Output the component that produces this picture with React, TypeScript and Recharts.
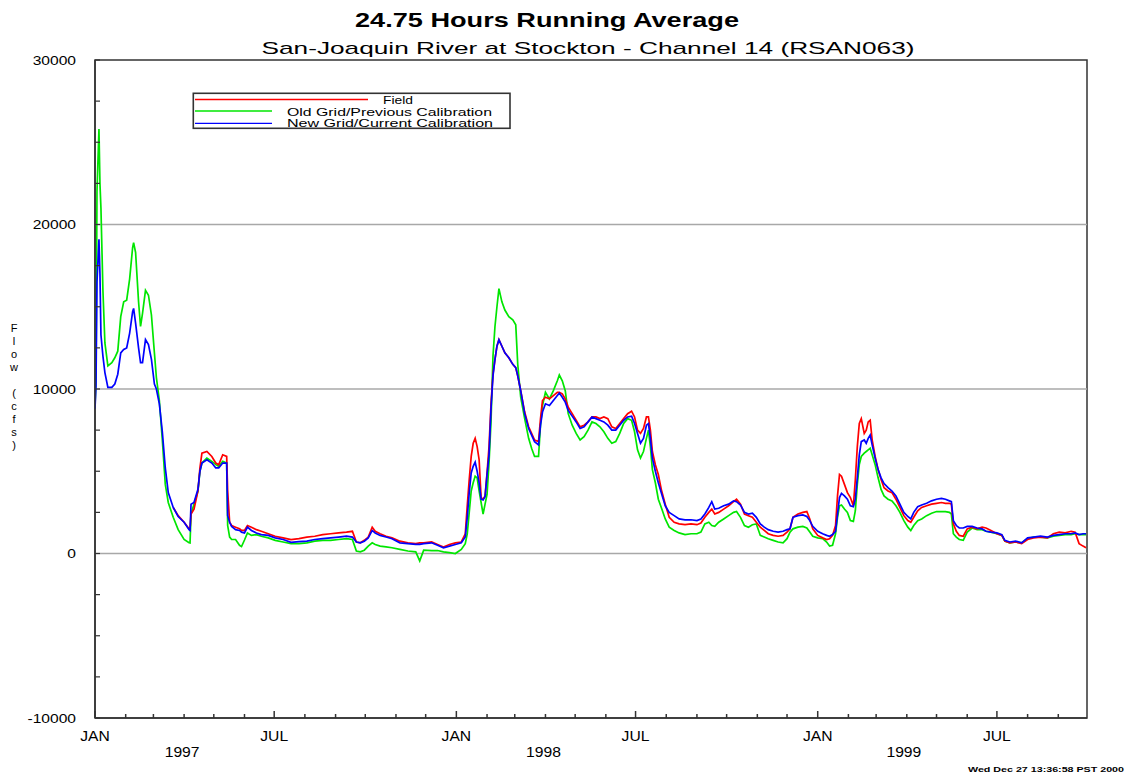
import React from "react";
import {
  LineChart,
  Line,
  XAxis,
  YAxis,
  ReferenceLine,
  ReferenceArea,
  Legend,
} from "recharts";

// days since 1997-01-01
const days = [
  0, 1, 2, 4, 5, 6, 8, 10, 13, 17,
  20, 23, 26, 29, 32, 35, 38, 39, 41, 44,
  46, 48, 51, 54, 57, 60, 62, 65, 68, 71,
  74, 79, 84, 90, 95, 96, 97, 100, 104, 106,
  108, 113, 118, 122, 125, 129, 133, 134, 136, 138,
  142, 146, 148, 151, 154, 158, 163, 168, 175, 182,
  190, 198, 206, 214, 222, 230, 238, 246, 254, 260,
  264, 268, 272, 276, 280, 283, 288, 294, 300, 308,
  316, 324, 328, 332, 340, 346, 352, 358, 364, 370,
  374, 376, 378, 380, 382, 384, 386, 388, 390, 392,
  394, 396, 398, 400, 402, 404, 406, 408, 411, 414,
  418, 422, 425, 427, 430, 434, 438, 441, 444, 448,
  450, 452, 455, 459, 463, 467, 469, 472, 475, 478,
  482, 486, 490, 494, 498, 502, 506, 510, 514, 518,
  522, 526, 530, 534, 538, 542, 545, 548, 551, 554,
  557, 559, 561, 563, 566, 569, 572, 576, 580, 585,
  590, 596, 602, 608, 612, 616, 620, 623, 626, 630,
  635, 640, 645, 648, 652, 656, 660, 664, 668, 672,
  676, 680, 685, 690, 695, 699, 702, 705, 710, 715,
  719, 722, 725, 730, 735, 739, 742, 745, 748, 750,
  752, 754, 757, 760, 763, 766, 768, 770, 772, 774,
  777, 779, 781, 783, 785, 788, 791, 794, 797, 801,
  805, 809, 813, 817, 821, 824, 827, 831, 835, 840,
  845, 850, 855, 859, 863, 865, 867, 870, 873, 877,
  881, 886, 891, 896, 900, 905, 911, 916, 919, 924,
  930, 936, 942, 948, 955, 962, 968, 974, 980, 986,
  990, 994, 998, 1001,
];

// Field (red)
const field = [
  null, null, null, null, null, null, null, null, null, null,
  null, null, null, null, null, null, null, null, null, null,
  null, null, null, null, null, null, null, null, null, null,
  null, 2800, 2300, 1900, 1500, 1450, 2400, 2700, 3800, 5200,
  6100, 6200, 5900, 5500, 5400, 6000, 5900, 3800, 1900, 1700,
  1600, 1500, 1400, 1400, 1700, 1600, 1450, 1350, 1200, 1050,
  950, 850, 900, 1000, 1050, 1150, 1200, 1250, 1300, 1350,
  700, 650, 800, 1000, 1600, 1350, 1200, 1050, 950, 750,
  650, 600, 650, 650, 700, 550, 400, 550, 650, 700,
  1200, 2900, 4500, 5900, 6700, 7000, 6500, 5700, 3400, 3300,
  3500, 4900, 6500, 9100, 10900, 11800, 12600, 13000, 12600, 12200,
  11900, 11500, 11300, 10800, 9900, 8600, 7700, 7300, 6900, 6800,
  8200, 9300, 9500, 9400, 9600, 9800, 9800, 9700, 9400, 8900,
  8500, 8100, 7700, 7800, 8000, 8300, 8300, 8200, 8300, 8200,
  7700, 7600, 7900, 8200, 8500, 8650, 8300, 7500, 7300, 7600,
  8300, 8300, 7500, 6200, 5400, 4800, 3900, 3000, 2200, 1900,
  1800, 1750, 1800, 1750, 1850, 2200, 2500, 2700, 2400, 2500,
  2700, 2900, 3150, 3300, 3000, 2400, 2300, 2200, 1900, 1600,
  1400, 1200, 1100, 1050, 1100, 1300, 1500, 2200, 2400, 2500,
  2550, 2100, 1500, 1100, 950, 850, 900, 1100, 1700, 3500,
  4800, 4700, 4200, 3700, 3400, 2900, 4500, 6500, 7900, 8200,
  7300, 7500, 8000, 8100, 6900, 5900, 5100, 4500, 4000, 3800,
  3700, 3300, 2800, 2300, 2000, 1900, 2200, 2600, 2800, 2900,
  3000, 3050, 3100, 3050, 3050, 3000, 1800, 1350, 1100, 1050,
  1500, 1600, 1500, 1600, 1550, 1400, 1200, 1100, 750, 650,
  700, 600, 850, 950, 1000, 950, 1200, 1300, 1250, 1350,
  1300, 600, 450, 350,
];

// Old Grid/Previous Calibration (green)
const oldGrid = [
  9000, 10500, 22000, 25800, 22500, 21000, 16000, 12800, 11400, 11600,
  11900, 12300, 14400, 15300, 15400, 16700, 18600, 18900, 18300, 15300,
  13800, 14600, 16000, 15700, 14500, 12200, 10700, 9300, 6900, 4200,
  3100, 2200, 1450, 850, 650, 640, 2400, 3000, 3800, 5000,
  5500, 5800, 5600, 5400, 5300, 5600, 5500, 1700, 1000, 850,
  850, 500, 420, 820, 1250, 1100, 1150, 1050, 950, 800,
  700, 600, 600, 650, 750, 800, 800, 850, 900, 850,
  150, 100, 200, 450, 650, 550, 450, 400, 350, 250,
  150, 100, -450, 200, 180, 180, 100, 50, 0, 250,
  600, 1200, 2500, 3800, 4300, 4700, 4600, 3800, 3100, 2400,
  3000, 3600, 5500, 8000, 12000, 13800, 15000, 16100, 15300, 14800,
  14400, 14200, 13900, 11500, 9500, 8200, 7000, 6400, 5900, 5900,
  7800, 9000, 9800, 9400, 9900, 10500, 10850, 10500, 9900, 8500,
  7800, 7300, 6900, 7100, 7500, 8000, 7900, 7700, 7400, 7000,
  6700, 6800, 7300, 7900, 8200, 8100, 7400, 6300, 5800, 6200,
  7000, 7500, 6500, 5100, 4300, 3300, 2800, 2100, 1600, 1400,
  1250, 1150, 1200, 1200, 1300, 1800, 1900, 1700, 1650, 1900,
  2100, 2300, 2500, 2550, 2200, 1700, 1600, 1750, 1800, 1100,
  1000, 900, 800, 700, 650, 900, 1300, 1500, 1600, 1650,
  1550, 1300, 1050, 950, 900, 700, 450, 500, 1200, 2200,
  2900, 2950, 2700, 2500, 2000, 1950, 2600, 4200, 5400, 5900,
  6100, 6200, 6300, 6400, 6000, 5400, 4600, 3900, 3500, 3300,
  3200, 2900, 2500, 2000, 1600, 1400, 1700, 2000, 2100, 2300,
  2450, 2550, 2550, 2550, 2500, 2400, 1200, 1000, 850, 800,
  1300, 1550, 1450, 1450, 1350, 1300, 1200, 1100, 750, 650,
  700, 650, 900, 1000, 1000, 950, 1050, 1100, 1150, 1150,
  1200, 1150, 1150, 1150,
];

// New Grid/Current Calibration (blue)
const newGrid = [
  8800, 10200, 16500, 19100, 17000, 13300, 12000, 11000, 10100, 10100,
  10300, 10900, 12200, 12400, 12500, 13400, 14700, 14900, 14000, 12500,
  11600, 11600, 13000, 12700, 11800, 10300, 10000, 9100, 7400, 5200,
  3700, 2800, 2250, 1900, 1450, 1400, 3000, 3100, 3900, 5000,
  5500, 5700, 5500, 5200, 5200, 5500, 5500, 2300, 1900, 1650,
  1450, 1400, 1300, 1250, 1600, 1400, 1250, 1150, 1100, 950,
  850, 680, 720, 750, 850, 900, 950, 1000, 1050, 1000,
  700, 650, 750, 950, 1400, 1250, 1100, 1000, 900, 650,
  600, 550, 550, 600, 650, 500, 350, 450, 550, 650,
  1000, 2200, 3700, 4900, 5300, 5550, 5000, 4300, 3300, 3250,
  3450, 4800, 6000, 8800, 10800, 11800, 12600, 13000, 12600, 12200,
  11900, 11500, 11300, 10800, 9900, 8500, 7600, 7200, 6800, 6600,
  7800, 8600, 9100, 9000, 9300, 9600, 9750, 9500, 9200, 8700,
  8350, 8000, 7600, 7700, 8000, 8300, 8200, 8100, 8000, 7800,
  7500, 7500, 7800, 8100, 8300, 8350, 7900, 7300, 6700, 7000,
  7800, 7900, 7000, 5800, 5000, 4300, 3700, 2900, 2500, 2300,
  2100, 2050, 2050, 2000, 2100, 2400, 2800, 3150, 2700, 2750,
  2900, 3000, 3200, 3150, 2950, 2500, 2400, 2450, 2200, 1800,
  1600, 1450, 1350, 1300, 1350, 1450, 1500, 2200, 2300, 2350,
  2250, 2000, 1650, 1350, 1200, 1100, 1050, 1150, 1350, 2400,
  3400, 3650, 3500, 3300, 2900, 2850, 3300, 4600, 6000, 6800,
  6900, 6700, 7000, 7200, 6600, 5800, 5100, 4600, 4250, 4000,
  3800, 3500, 3000, 2500, 2250, 2100, 2500, 2850, 2950, 3050,
  3200, 3300, 3350, 3300, 3200, 3150, 2000, 1700, 1550, 1550,
  1650, 1650, 1550, 1500, 1350, 1300, 1250, 1150, 800, 700,
  750, 650, 950, 1000, 1050, 1000, 1100, 1150, 1200, 1200,
  1250, 1150, 1200, 1200,
];

const monthTicks = [
  0, 31, 59, 90, 120, 151, 181, 212, 243, 273, 304, 334,
  365, 396, 424, 455, 485, 516, 546, 577, 608, 638, 669, 699,
  730, 761, 789, 820, 850, 881, 911, 942, 973,
];
const monthLabels: Record<number, string> = {
  0: "JAN", 181: "JUL", 365: "JAN", 546: "JUL", 730: "JAN", 911: "JUL",
};
const yearTicks = [88, 453, 817];
const yearLabels: Record<number, string> = { 88: "1997", 453: "1998", 817: "1999" };
const flowTicks = [
  -10000, -7500, -5000, -2500, 0, 2500, 5000, 7500, 10000,
  12500, 15000, 17500, 20000, 22500, 25000, 27500, 30000,
];
const gridValues = [0, 10000, 20000];
const dayMax = 1002;

const data = days.map((d, i) => ({
  day: d,
  field: field[i],
  oldGrid: oldGrid[i],
  newGrid: newGrid[i],
}));

const FONT = "'Liberation Sans', Arial, Helvetica, sans-serif";

function WideText({ x, y, size, sx, anchor, children }: any) {
  return (
    <text
      transform={`translate(${x},${y}) scale(${sx},1)`}
      fontSize={size}
      textAnchor={anchor}
      fontFamily={FONT}
      fill="#000"
    >
      {children}
    </text>
  );
}

function FlowTick(props: any) {
  const { x, y, payload } = props;
  if (payload.value % 10000 !== 0) return <g />;
  return (
    <WideText x={x} y={y + 4.5} size={12} sx={1.3} anchor="end">
      {String(payload.value)}
    </WideText>
  );
}

function MonthTick(props: any) {
  const { x, y, payload } = props;
  const label = monthLabels[payload.value];
  return (
    <g>
      <line x1={x} x2={x} y1={y} y2={y - (label ? 7 : 4)} stroke="#333" strokeWidth={1.5} />
      {label && (
        <WideText x={x} y={y + 23} size={14} sx={1.12} anchor="middle">
          {label}
        </WideText>
      )}
    </g>
  );
}

function YearTick(props: any) {
  const { x, y, payload } = props;
  return (
    <WideText x={x} y={y + 16.5} size={14} sx={1.12} anchor="middle">
      {yearLabels[payload.value]}
    </WideText>
  );
}

function LegendBox(props: any) {
  const items = props.payload || [];
  const rows = [
    { key: "field", x2: 178, tx: 193, ly: 9.5, ty: 14, tl: 30 },
    { key: "oldGrid", x2: 82, tx: 97, ly: 21, ty: 25.5, tl: 205 },
    { key: "newGrid", x2: 82, tx: 97, ly: 33.3, ty: 37, tl: 206 },
  ];
  return (
    <svg width={325} height={42} style={{ display: "block" }}>
      <rect x={3.3} y={3.3} width={316.7} height={35} fill="#fff" stroke="#333" strokeWidth={1.6} />
      {rows.map((r) => {
        const p = items.find((it: any) => it.dataKey === r.key);
        if (!p) return null;
        return (
          <g key={r.key}>
            <line x1={5} x2={r.x2} y1={r.ly} y2={r.ly} stroke={p.color} strokeWidth={1.3} />
            <text
              x={r.tx}
              y={r.ty}
              fontSize={10.5}
              fontFamily={FONT}
              textLength={r.tl}
              lengthAdjust="spacingAndGlyphs"
              fill="#000"
            >
              {p.value}
            </text>
          </g>
        );
      })}
    </svg>
  );
}

const yLabel = "Flow (cfs)";

export default function App() {
  return (
    <div style={{ position: "absolute", left: 0, top: 0, width: 1126, height: 775, background: "#fff" }}>
      <LineChart
        width={1126}
        height={775}
        data={data}
        margin={{ top: 60, right: 39, bottom: 0, left: 0 }}
      >
        <XAxis
          dataKey="day"
          type="number"
          domain={[0, dayMax]}
          ticks={monthTicks}
          interval={0}
          height={22}
          tickLine={false}
          tickSize={0}
          tickMargin={0}
          tick={MonthTick}
          axisLine={{ stroke: "#333", strokeWidth: 1.5 }}
          allowDataOverflow
        />
        <XAxis
          xAxisId="yr"
          dataKey="day"
          type="number"
          domain={[0, dayMax]}
          ticks={yearTicks}
          interval={0}
          height={35}
          axisLine={false}
          tickLine={false}
          tickSize={0}
          tickMargin={0}
          tick={YearTick}
          allowDataOverflow
        />
        <YAxis
          type="number"
          domain={[-10000, 30000]}
          ticks={flowTicks}
          interval={0}
          width={95}
          tickSize={-5}
          tickMargin={24}
          tick={FlowTick}
          tickLine={{ stroke: "#333", strokeWidth: 1.2 }}
          axisLine={{ stroke: "#333", strokeWidth: 1.5 }}
          allowDataOverflow
        />
        {gridValues.map((v) => (
          <ReferenceLine key={v} y={v} stroke="#a8a8a8" strokeWidth={1.5} />
        ))}
        <ReferenceArea
          x1={0}
          x2={dayMax}
          y1={-10000}
          y2={30000}
          fill="none"
          fillOpacity={0}
          stroke="#333"
          strokeWidth={1.5}
          strokeOpacity={1}
        />
        <Legend
          content={<LegendBox />}
          layout="vertical"
          align="center"
          verticalAlign="middle"
          wrapperStyle={{ left: 190, top: 90, width: 325, height: 42 }}
        />
        <Line
          dataKey="oldGrid"
          name="Old Grid/Previous Calibration"
          type="linear"
          stroke="#00e600"
          strokeWidth={1.7}
          dot={false}
          isAnimationActive={false}
        />
        <Line
          dataKey="field"
          name="Field"
          type="linear"
          stroke="#ff0000"
          strokeWidth={1.7}
          dot={false}
          isAnimationActive={false}
        />
        <Line
          dataKey="newGrid"
          name="New Grid/Current Calibration"
          type="linear"
          stroke="#0000ff"
          strokeWidth={1.7}
          dot={false}
          isAnimationActive={false}
        />
      </LineChart>
      <svg
        width={1126}
        height={775}
        style={{ position: "absolute", left: 0, top: 0, pointerEvents: "none" }}
      >
        <text
          x={547}
          y={27}
          textAnchor="middle"
          fontSize={21}
          fontWeight="bold"
          fontFamily={FONT}
          textLength={384}
          lengthAdjust="spacingAndGlyphs"
        >
          24.75 Hours Running Average
        </text>
        <text
          x={588}
          y={54}
          textAnchor="middle"
          fontSize={17}
          fontFamily={FONT}
          textLength={653}
          lengthAdjust="spacingAndGlyphs"
        >
          San-Joaquin River at Stockton - Channel 14 (RSAN063)
        </text>
        <text fontSize={11} fontFamily={FONT} textAnchor="middle">
          {yLabel.split("").map((c, i) => (
            <tspan key={i} x={14} y={332 + i * 13}>
              {c === " " ? "\u00a0" : c}
            </tspan>
          ))}
        </text>
        <text
          x={968}
          y={772}
          fontSize={8}
          fontWeight="bold"
          fontFamily={FONT}
          textLength={156}
          lengthAdjust="spacingAndGlyphs"
        >
          Wed Dec 27 13:36:58 PST 2000
        </text>
      </svg>
    </div>
  );
}
